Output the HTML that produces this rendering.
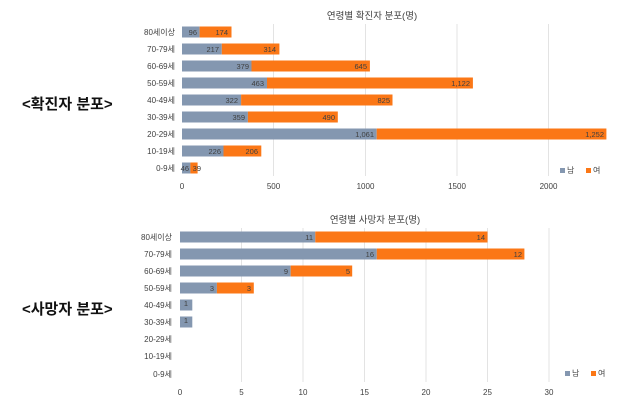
<!DOCTYPE html>
<html><head><meta charset="utf-8"><style>
html,body{margin:0;padding:0;background:#fff}
svg{display:block}
text{font-family:"Liberation Sans","Noto Sans CJK KR",sans-serif;fill:#404040}
.t{font-size:8px}
.v{font-size:7.5px;fill:#333;text-anchor:end}
.h{font-size:15px;font-weight:bold;fill:#111}
</style></head><body>
<svg width="640" height="418" viewBox="0 0 640 418" xmlns="http://www.w3.org/2000/svg">
<rect width="640" height="418" fill="#fff"/>
<text class="h" x="22" y="109">&lt;확진자 분포&gt;</text>
<text class="h" x="22" y="314">&lt;사망자 분포&gt;</text>

<!-- TOP CHART -->
<text x="372" y="19" font-size="9.5" text-anchor="middle">연령별 확진자 분포(명)</text>
<g stroke="#e3e3e3" stroke-width="1">
<line x1="273.5" y1="24" x2="273.5" y2="176"/><line x1="365.5" y1="24" x2="365.5" y2="176"/>
<line x1="457" y1="24" x2="457" y2="176"/><line x1="548.5" y1="24" x2="548.5" y2="176"/>
</g>
<g class="t" text-anchor="end">
<text x="175" y="35">80세이상</text><text x="175" y="52">70-79세</text><text x="175" y="69">60-69세</text>
<text x="175" y="86">50-59세</text><text x="175" y="103">40-49세</text><text x="175" y="120">30-39세</text>
<text x="175" y="137">20-29세</text><text x="175" y="154">10-19세</text><text x="175" y="171">0-9세</text>
</g>
<g class="t" text-anchor="middle">
<text x="182" y="189">0</text><text x="273.5" y="189">500</text><text x="365.5" y="189">1000</text>
<text x="457" y="189">1500</text><text x="548.5" y="189">2000</text>
</g>
<g fill="#8497b0">
<rect x="182" y="26.5" width="17.6" height="11"/><rect x="182" y="43.5" width="39.8" height="11"/>
<rect x="182" y="60.5" width="69.5" height="11"/><rect x="182" y="77.5" width="85" height="11"/>
<rect x="182" y="94.5" width="59.1" height="11"/><rect x="182" y="111.5" width="65.9" height="11"/>
<rect x="182" y="128.5" width="194.7" height="11"/><rect x="182" y="145.5" width="41.5" height="11"/>
<rect x="182" y="162.5" width="8.4" height="11"/>
</g>
<g fill="#fb7716">
<rect x="199.6" y="26.5" width="31.9" height="11"/><rect x="221.8" y="43.5" width="57.6" height="11"/>
<rect x="251.5" y="60.5" width="118.4" height="11"/><rect x="267" y="77.5" width="205.9" height="11"/>
<rect x="241.1" y="94.5" width="151.4" height="11"/><rect x="247.9" y="111.5" width="89.9" height="11"/>
<rect x="376.7" y="128.5" width="229.7" height="11"/><rect x="223.5" y="145.5" width="37.8" height="11"/>
<rect x="190.4" y="162.5" width="7.2" height="11"/>
</g>
<g class="v">
<text x="197" y="35">96</text><text x="228" y="35">174</text>
<text x="219" y="52">217</text><text x="276" y="52">314</text>
<text x="249" y="69">379</text><text x="367" y="69">645</text>
<text x="264" y="86">463</text><text x="470" y="86">1,122</text>
<text x="238" y="103">322</text><text x="390" y="103">825</text>
<text x="245" y="120">359</text><text x="335" y="120">490</text>
<text x="374" y="137">1,061</text><text x="604" y="137">1,252</text>
<text x="221" y="154">226</text><text x="258" y="154">206</text>
<text x="189" y="171">46</text><text x="201" y="171">39</text>
</g>
<rect x="560" y="168" width="5" height="5" fill="#8497b0"/><text x="567" y="173" class="t">남</text>
<rect x="586" y="168" width="5" height="5" fill="#fb7716"/><text x="593" y="173" class="t">여</text>

<!-- BOTTOM CHART -->
<text x="375" y="223" font-size="9.5" text-anchor="middle">연령별 사망자 분포(명)</text>
<g stroke="#e3e3e3" stroke-width="1">
<line x1="241.5" y1="228" x2="241.5" y2="382"/><line x1="303" y1="228" x2="303" y2="382"/>
<line x1="364.5" y1="228" x2="364.5" y2="382"/><line x1="426" y1="228" x2="426" y2="382"/>
<line x1="487.5" y1="228" x2="487.5" y2="382"/><line x1="549" y1="228" x2="549" y2="382"/>
</g>
<g class="t" text-anchor="end">
<text x="172" y="240">80세이상</text><text x="172" y="257">70-79세</text><text x="172" y="274">60-69세</text>
<text x="172" y="291">50-59세</text><text x="172" y="308">40-49세</text><text x="172" y="325">30-39세</text>
<text x="172" y="342">20-29세</text><text x="172" y="359">10-19세</text><text x="172" y="377">0-9세</text>
</g>
<g class="t" text-anchor="middle">
<text x="180" y="395">0</text><text x="241.5" y="395">5</text><text x="303" y="395">10</text>
<text x="364.5" y="395">15</text><text x="426" y="395">20</text><text x="487.5" y="395">25</text><text x="549" y="395">30</text>
</g>
<g fill="#8497b0">
<rect x="180" y="231.5" width="135.3" height="11"/><rect x="180" y="248.5" width="196.8" height="11"/>
<rect x="180" y="265.5" width="110.7" height="11"/><rect x="180" y="282.5" width="36.9" height="11"/>
<rect x="180" y="299.5" width="12.3" height="11"/><rect x="180" y="316.5" width="12.3" height="11"/>
</g>
<g fill="#fb7716">
<rect x="315.3" y="231.5" width="172.2" height="11"/><rect x="376.8" y="248.5" width="147.6" height="11"/>
<rect x="290.7" y="265.5" width="61.5" height="11"/><rect x="216.9" y="282.5" width="36.9" height="11"/>
</g>
<g class="v">
<text x="313" y="240">11</text><text x="485" y="240">14</text>
<text x="374" y="257">16</text><text x="522" y="257">12</text>
<text x="288" y="274">9</text><text x="350" y="274">5</text>
<text x="214" y="291">3</text><text x="251" y="291">3</text>
<text x="188" y="306">1</text><text x="188" y="323">1</text>
</g>
<rect x="565" y="371" width="5" height="5" fill="#8497b0"/><text x="572" y="376" class="t">남</text>
<rect x="591" y="371" width="5" height="5" fill="#fb7716"/><text x="598" y="376" class="t">여</text>
</svg>
</body></html>
